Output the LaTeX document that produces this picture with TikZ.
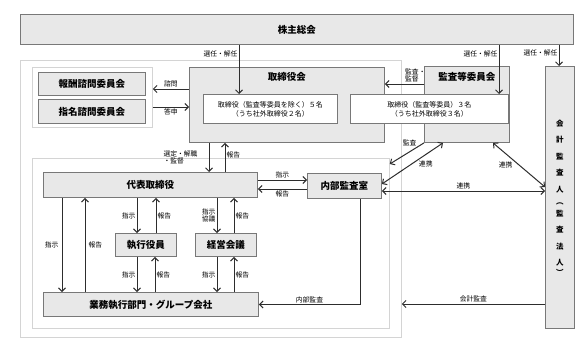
\documentclass[tikz,border=0pt]{standalone}
\usepackage{fontspec}
\setmainfont{Noto Sans CJK JP}
\usetikzlibrary{arrows.meta,positioning}
\definecolor{boxfill}{RGB}{232,232,232}
\definecolor{boxline}{RGB}{120,120,120}
\definecolor{frameline}{RGB}{212,212,212}
\definecolor{arrline}{RGB}{45,45,45}
\tikzset{
  gbox/.style={draw=boxline, fill=boxfill, line width=0.9pt, inner sep=1pt, anchor=north west,
    font=\fontsize{9.5}{11}\selectfont\bfseries},
  wbox/.style={draw=boxline, fill=white, line width=0.9pt, inner sep=1pt, anchor=north west,
    align=center, font=\fontsize{7}{9}\selectfont},
  areaframe/.style={draw=frameline, fill=white, line width=0.8pt, anchor=north west, inner sep=0pt},
  boxtitle/.style={font=\fontsize{9.5}{11}\selectfont\bfseries, inner sep=1pt},
  arr/.style={-{Straight Barb[length=3.5pt,width=7pt]}, draw=arrline, line width=1pt},
  dblarr/.style={{Straight Barb[length=3.5pt,width=7pt]}-{Straight Barb[length=3.5pt,width=7pt]},
    draw=arrline, line width=1pt},
  lbl/.style={font=\fontsize{6.8}{7.5}\selectfont, inner sep=1pt}
}
\begin{document}
\begin{tikzpicture}[x=1pt, y=-1pt]
  \useasboundingbox (0,0) rectangle (577,348);
  % background frames
  \node[areaframe, minimum width=381, minimum height=277] (outer) at (20,60) {};
  \node[areaframe, minimum width=120, minimum height=60] (cmt) at (32,67) {};
  \node[areaframe, minimum width=357, minimum height=170] (exe) at (32,158) {};

  % shareholders meeting
  \node[gbox, minimum width=553, minimum height=30] (gm) at (20,14) {株主総会};

  % advisory committees
  \node[gbox, minimum width=107, minimum height=23] (hoshu) at (38,72) {報酬諮問委員会};
  \node[gbox, minimum width=107, minimum height=24] (shimei) at (38,99) {指名諮問委員会};

  % board and audit committee
  \node[gbox, minimum width=195, minimum height=75] (board) at (189,67) {};
  \node[boxtitle, below=4pt of board.north] (boardttl) {取締役会};
  \node[gbox, minimum width=85, minimum height=76] (audit) at (424,66) {};
  \node[boxtitle, below=5pt of audit.north] (auditttl) {監査等委員会};
  \node[wbox, minimum width=134, minimum height=29] (boardin) at (203,94)
    {取締役（監査等委員を除く）５名\\（うち社外取締役２名）};
  \node[wbox, minimum width=158, minimum height=29] (auditin) at (350,94)
    {取締役（監査等委員）３名\\（うち社外取締役３名）};

  % accounting auditor
  \node[gbox, minimum width=29, minimum height=262, align=center,
    font=\fontsize{7.5}{16.5}\selectfont\bfseries] (acct) at (545,66)
    {会\\計\\監\\査\\人\\[-4.5pt]︵\\[-4.5pt]監\\査\\法\\人\\[-7pt]︶};

  % execution side
  \node[gbox, minimum width=214, minimum height=25] (ceo) at (43,172) {代表取締役};
  \node[gbox, minimum width=74, minimum height=25] (ia) at (307,173) {内部監査室};
  \node[gbox, minimum width=61, minimum height=23] (exo) at (115,233) {執行役員};
  \node[gbox, minimum width=61, minimum height=23] (mgm) at (195,233) {経営会議};
  \node[gbox, minimum width=215, minimum height=24] (biz) at (43,292) {業務執行部門・グループ会社};

  % appointment and dismissal
  \draw[arr] ([xshift=219]gm.south west) -- node[lbl, left, pos=0.18] {選任・解任} ([xshift=36]boardin.north west);
  \draw[arr] ([xshift=479]gm.south west) -- node[lbl, left, pos=0.18] {選任・解任} ([xshift=149]auditin.north west);
  \draw[arr] ([xshift=539]gm.south west) -- node[lbl, left, pos=0.4] {選任・解任} ([xshift=14]acct.north west);

  % consultation
  \draw[arr] ([yshift=-22]board.north west) -- node[lbl, above] {諮問} ([yshift=-22]cmt.north east);
  \draw[arr] ([yshift=-40]cmt.north east) -- node[lbl, below] {答申} ([yshift=-40]board.north west);
  \draw[arr] ([yshift=-18]audit.north west) -- node[lbl, align=left, anchor=south west, pos=0.52] {監査・\\監督} ([yshift=-17]board.north east);

  % board and ceo
  \draw[arr] ([xshift=20]board.south west) -- node[lbl, align=left, left, xshift=-10] {選定・解職\\・監督} ([xshift=166]ceo.north west);
  \draw[arr] ([xshift=182]ceo.north west) -- node[lbl, right, pos=0.6] {報告} ([xshift=36]board.south west);

  % ceo and internal audit office
  \draw[arr] ([yshift=-8]ceo.north east) -- node[lbl, above] {指示} ([yshift=-7]ia.north west);
  \draw[arr] ([yshift=-16]ia.north west) -- node[lbl, below] {報告} ([yshift=-17]ceo.north east);

  % audit committee links
  \draw[arr] (audit.south west) -- node[lbl, left, pos=0, xshift=-6] {監査} ([yshift=-6]exe.north east);
  \draw[dblarr] ([xshift=19]audit.south west) -- node[lbl, right, xshift=5] {連携} ([yshift=-11]ia.north east);
  \draw[dblarr] ([xshift=69]audit.south west) -- node[lbl, left, xshift=-5] {連携} ([yshift=-121]acct.north west);
  \draw[dblarr] ([yshift=-18]ia.north east) -- node[lbl, above] {連携} ([yshift=-125]acct.north west);

  % ceo down to the business side
  \draw[arr] ([xshift=19]ceo.south west) -- node[lbl, left, xshift=-2] {指示} ([xshift=19]biz.north west);
  \draw[arr] ([xshift=42]biz.north west) -- node[lbl, right, xshift=2] {報告} ([xshift=42]ceo.south west);
  \draw[arr] ([xshift=94]ceo.south west) -- node[lbl, left] {指示} ([xshift=22]exo.north west);
  \draw[arr] ([xshift=41]exo.north west) -- node[lbl, right] {報告} ([xshift=113]ceo.south west);
  \draw[arr] ([xshift=174]ceo.south west) -- node[lbl, left, align=left] {指示\\協議} ([xshift=22]mgm.north west);
  \draw[arr] ([xshift=39]mgm.north west) -- node[lbl, right] {報告} ([xshift=191]ceo.south west);
  \draw[arr] ([xshift=22]exo.south west) -- node[lbl, left] {指示} ([xshift=94]biz.north west);
  \draw[arr] ([xshift=112]biz.north west) -- node[lbl, right] {報告} ([xshift=40]exo.south west);
  \draw[arr] ([xshift=22]mgm.south west) -- node[lbl, left] {指示} ([xshift=174]biz.north west);
  \draw[arr] ([xshift=191]biz.north west) -- node[lbl, right] {報告} ([xshift=39]mgm.south west);

  % internal audit and accounting audit
  \draw[arr] ([xshift=53]ia.south west) |- node[lbl, above, pos=0.75] {内部監査} (biz.east);
  \draw[arr] ([yshift=-238]acct.north west) -- node[lbl, above] {会計監査} ([yshift=-244]outer.north east);
\end{tikzpicture}
\end{document}
